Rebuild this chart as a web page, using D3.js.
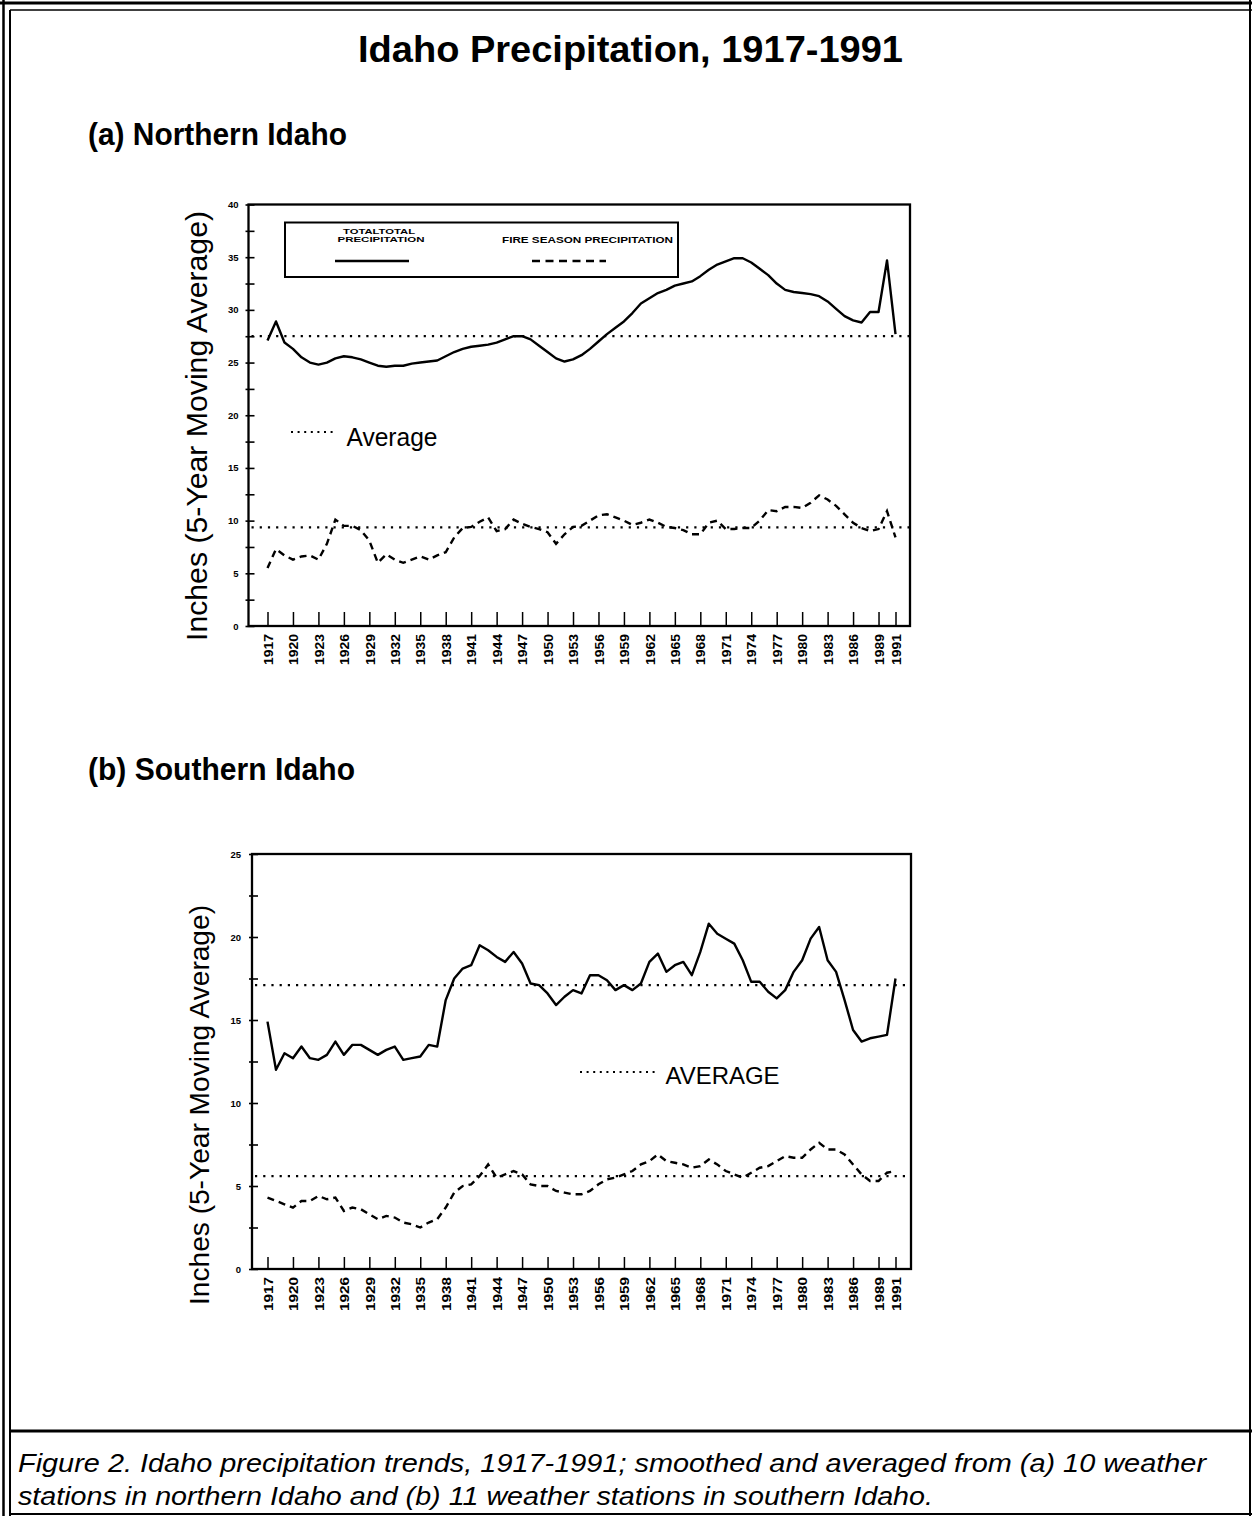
<!DOCTYPE html>
<html>
<head>
<meta charset="utf-8">
<script src="https://cdn.jsdelivr.net/npm/d3@7"></script>
<style>
  body { margin: 0; background: #fff; }
  svg { display: block; }
  text { font-family: "Liberation Sans", Arial, Helvetica, sans-serif; fill: #000; }
</style>
</head>
<body>
<svg id="chart" width="1252" height="1516"></svg>
<script>
// Data
const years = d3.range(1917, 1992);
const yearTicks = [1917, 1920, 1923, 1926, 1929, 1932, 1935, 1938, 1941, 1944, 1947, 1950, 1953,
  1956, 1959, 1962, 1965, 1968, 1971, 1974, 1977, 1980, 1983, 1986, 1989, 1991];

const northTicks = [0, 2.5, 5, 7.5, 10, 12.5, 15, 17.5, 20, 22.5, 25, 27.5, 30, 32.5, 35, 37.5, 40];
const southTicks = [0, 2.5, 5, 7.5, 10, 12.5, 15, 17.5, 20, 22.5, 25];

// (a) Northern Idaho, inches
const northTotal = [
  27.1, 28.9, 26.9, 26.3, 25.5, 25.0, 24.8, 25.0, 25.4, 25.6,
  25.5, 25.3, 25.0, 24.7, 24.6, 24.7, 24.7, 24.9, 25.0, 25.1,
  25.2, 25.6, 26.0, 26.3, 26.5, 26.6, 26.7, 26.9, 27.2, 27.5,
  27.5, 27.2, 26.6, 26.0, 25.4, 25.1, 25.3, 25.7, 26.3, 27.0,
  27.7, 28.3, 28.9, 29.7, 30.6, 31.1, 31.6, 31.9, 32.3, 32.5,
  32.7, 33.2, 33.8, 34.3, 34.6, 34.9, 34.9, 34.5, 33.9, 33.3,
  32.5, 31.9, 31.7, 31.6, 31.5, 31.3, 30.8, 30.1, 29.4, 29.0,
  28.8, 29.8, 29.8, 34.7, 27.7
];
const northFire = [
  5.5, 7.3, 6.7, 6.3, 6.6, 6.7, 6.3, 7.8, 10.1, 9.5,
  9.5, 9.1, 8.1, 6.0, 6.8, 6.3, 6.0, 6.3, 6.6, 6.3,
  6.7, 7.0, 8.4, 9.3, 9.4, 9.9, 10.3, 9.0, 9.2, 10.1,
  9.7, 9.4, 9.2, 8.9, 7.8, 8.7, 9.4, 9.5, 10.0, 10.5,
  10.6, 10.3, 10.0, 9.6, 9.8, 10.1, 9.8, 9.4, 9.3, 9.1,
  8.7, 8.7, 9.8, 10.0, 9.2, 9.2, 9.3, 9.3, 10.0, 11.0,
  10.9, 11.3, 11.3, 11.2, 11.7, 12.4, 12.0, 11.4, 10.6, 9.8,
  9.3, 9.0, 9.2, 10.9, 8.4
];
const northAverages = [27.5, 9.35];

// (b) Southern Idaho, inches
const southTotal = [
  14.9, 12.0, 13.0, 12.7, 13.4, 12.7, 12.6, 12.9, 13.7, 12.9,
  13.5, 13.5, 13.2, 12.9, 13.2, 13.4, 12.6, 12.7, 12.8, 13.5,
  13.4, 16.2, 17.5, 18.1, 18.3, 19.5, 19.2, 18.8, 18.5, 19.1,
  18.4, 17.2, 17.1, 16.6, 15.9, 16.4, 16.8, 16.6, 17.7, 17.7,
  17.4, 16.8, 17.1, 16.8, 17.2, 18.5, 19.0, 17.9, 18.3, 18.5,
  17.7, 19.1, 20.8, 20.2, 19.9, 19.6, 18.6, 17.3, 17.3, 16.7,
  16.3, 16.8, 17.9, 18.6, 19.9, 20.6, 18.6, 17.9, 16.2, 14.4,
  13.7, 13.9, 14.0, 14.1, 17.5
];
const southFire = [
  4.3, 4.1, 3.9, 3.7, 4.1, 4.1, 4.4, 4.2, 4.3, 3.5,
  3.7, 3.6, 3.3, 3.0, 3.2, 3.1, 2.8, 2.7, 2.5, 2.8,
  3.0, 3.7, 4.6, 5.0, 5.1, 5.6, 6.3, 5.5, 5.7, 5.9,
  5.7, 5.1, 5.0, 5.0, 4.7, 4.6, 4.5, 4.5, 4.7, 5.1,
  5.4, 5.5, 5.7, 5.9, 6.3, 6.5, 6.9, 6.5, 6.4, 6.3,
  6.1, 6.2, 6.6, 6.3, 5.9, 5.7, 5.5, 5.8, 6.1, 6.2,
  6.5, 6.8, 6.7, 6.7, 7.2, 7.6, 7.2, 7.2, 6.9, 6.3,
  5.7, 5.3, 5.3, 5.8, 5.9
];
const southAverages = [17.1, 5.6];

const FONT = '"Liberation Sans", Arial, Helvetica, sans-serif';
const svg = d3.select("#chart");

// Page frame
function rule(x1, y1, x2, y2, w) {
  svg.append("line").attr("x1", x1).attr("y1", y1).attr("x2", x2).attr("y2", y2)
    .attr("stroke", "#000").attr("stroke-width", w);
}
rule(0, 3, 1252, 3, 3);
rule(10, 10, 1252, 10, 1.5);
rule(3.5, 0, 3.5, 1516, 2.5);
rule(10, 10, 10, 1516, 2);
rule(1250, 0, 1250, 1516, 2);
rule(10, 1431, 1252, 1431, 3);
rule(10, 1514, 1252, 1514, 2);

function label(x, y, str, size, len, opts = {}) {
  const t = svg.append("text").attr("x", x).attr("y", y)
    .attr("font-size", size)
    .attr("font-weight", opts.weight || "normal")
    .attr("font-style", opts.style || "normal")
    .attr("text-anchor", opts.anchor || "start")
    .text(str);
  if (len) t.attr("textLength", len).attr("lengthAdjust", "spacingAndGlyphs");
  if (opts.rotate) t.attr("transform", `rotate(-90,${x},${y})`);
  return t;
}

label(358, 62, "Idaho Precipitation, 1917-1991", 37, 545, { weight: "bold" });
label(88, 145, "(a) Northern Idaho", 31, 259, { weight: "bold" });
label(88, 780, "(b) Southern Idaho", 31, 267, { weight: "bold" });

label(18, 1472, "Figure 2. Idaho precipitation trends, 1917-1991; smoothed and averaged from (a) 10 weather", 26, 1188, { style: "italic" });
label(18, 1505, "stations in northern Idaho and (b) 11 weather stations in southern Idaho.", 26, 915, { style: "italic" });

function drawPanel(p) {
  const x = d3.scaleLinear().domain([1917, 1991]).range([267.5, 895.5]);
  const y = d3.scaleLinear().domain([0, p.yMax]).range([p.bottom, p.top]);
  const g = svg.append("g");

  // y axis (major ticks labelled, minor ticks blank)
  g.append("g")
    .attr("transform", `translate(${p.left},0)`)
    .call(d3.axisLeft(y).tickValues(p.ticks)
      .tickFormat(d => d % 5 === 0 ? d : "")
      .tickSize(0).tickPadding(p.yPad))
    .attr("font-family", FONT)
    .call(a => a.select(".domain").remove())
    .call(a => a.selectAll(".tick line").attr("x1", -3).attr("x2", 6).attr("stroke-width", 1.6))
    .call(a => a.selectAll(".tick text").attr("font-size", 9.5).attr("font-weight", "bold"));

  // x axis: ticks point up into the plot, labels rotated
  g.append("g")
    .attr("transform", `translate(0,${p.bottom})`)
    .call(d3.axisBottom(x).tickValues(yearTicks).tickFormat(d3.format("d"))
      .tickSizeInner(-p.xTick).tickSizeOuter(0))
    .attr("font-family", FONT)
    .call(a => a.select(".domain").remove())
    .call(a => a.selectAll(".tick line").attr("stroke-width", 1.5))
    .call(a => a.selectAll(".tick text")
      .attr("y", 0).attr("dy", "0.36em")
      .attr("transform", `translate(0,${p.xGap}) rotate(-90)`)
      .attr("text-anchor", "end")
      .attr("font-size", 13).attr("font-weight", "bold")
      .attr("textLength", p.yearLen).attr("lengthAdjust", "spacingAndGlyphs"));

  // frame
  g.append("rect")
    .attr("x", p.left).attr("y", p.top)
    .attr("width", p.right - p.left).attr("height", p.bottom - p.top)
    .attr("fill", "none").attr("stroke", "#000").attr("stroke-width", 2.3);

  // averages
  p.averages.forEach(v => {
    g.append("line")
      .attr("x1", p.left + 3).attr("x2", p.right)
      .attr("y1", y(v)).attr("y2", y(v))
      .attr("stroke", "#000").attr("stroke-width", 2.2)
      .attr("stroke-dasharray", "2.2,6");
  });

  const line = d3.line().x((d, i) => x(years[i])).y(d => y(d));

  g.append("path").datum(p.total).attr("d", line)
    .attr("fill", "none").attr("stroke", "#000").attr("stroke-width", 2.4)
    .attr("stroke-linejoin", "round");
  g.append("path").datum(p.fire).attr("d", line)
    .attr("fill", "none").attr("stroke", "#000").attr("stroke-width", 2.4)
    .attr("stroke-dasharray", "7,5");

  // "Average" key
  g.append("line")
    .attr("x1", p.avgKey[0]).attr("x2", p.avgKey[1])
    .attr("y1", p.avgKey[2]).attr("y2", p.avgKey[2])
    .attr("stroke", "#000").attr("stroke-width", 2).attr("stroke-dasharray", "2,4.6");
  label(p.avgText[0], p.avgText[1], p.avgText[2], p.avgText[3], p.avgText[4]);

  // y axis title
  label(p.titleX, p.titleY, "Inches (5-Year Moving Average)", p.titleSize, p.titleLen,
    { anchor: "middle", rotate: true });
}

drawPanel({
  left: 248.5, right: 910, top: 204.5, bottom: 626, yMax: 40, ticks: northTicks,
  yPad: 10, xTick: 14, xGap: 8, yearLen: 31,
  total: northTotal, fire: northFire, averages: northAverages,
  avgKey: [291, 337, 432], avgText: [346.5, 446, "Average", 25, 91],
  titleX: 207, titleY: 426, titleSize: 29, titleLen: 430
});

drawPanel({
  left: 252, right: 911, top: 854, bottom: 1269, yMax: 25, ticks: southTicks,
  yPad: 11, xTick: 12, xGap: 8, yearLen: 34,
  total: southTotal, fire: southFire, averages: southAverages,
  avgKey: [580, 657, 1072], avgText: [665.5, 1083.5, "AVERAGE", 24, 114],
  titleX: 209, titleY: 1105, titleSize: 28, titleLen: 400
});

// Legend of panel (a)
const legend = svg.append("g");
legend.append("rect").attr("x", 285).attr("y", 222.5).attr("width", 393).attr("height", 54.5)
  .attr("fill", "#fff").attr("stroke", "#000").attr("stroke-width", 2);
legend.append("line").attr("x1", 335).attr("x2", 409).attr("y1", 261).attr("y2", 261)
  .attr("stroke", "#000").attr("stroke-width", 2.4);
legend.append("line").attr("x1", 532).attr("x2", 606).attr("y1", 261).attr("y2", 261)
  .attr("stroke", "#000").attr("stroke-width", 2.4).attr("stroke-dasharray", "8,5.5");
label(379, 233.5, "TOTALTOTAL", 7.5, 72, { weight: "bold", anchor: "middle" });
label(381, 242, "PRECIPITATION", 7.5, 87, { weight: "bold", anchor: "middle" });
label(502, 243, "FIRE SEASON PRECIPITATION", 9, 171, { weight: "bold" });
</script>
</body>
</html>
